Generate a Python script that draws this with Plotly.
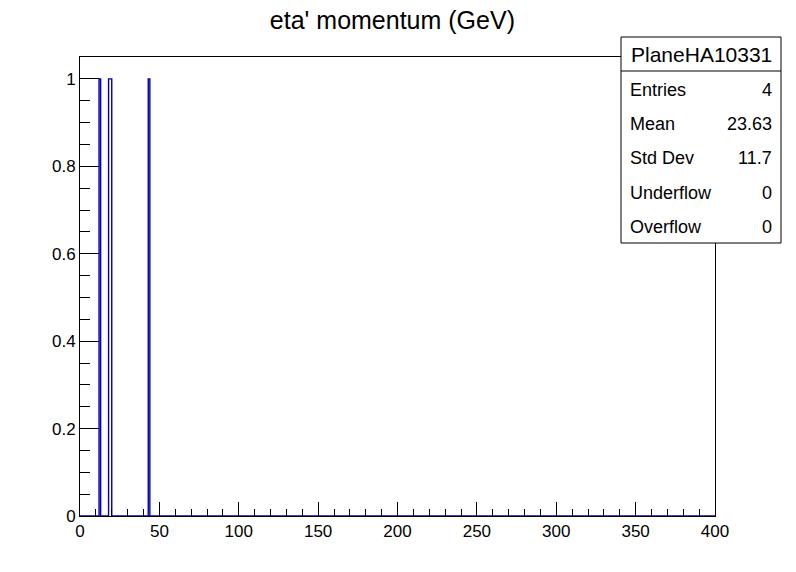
import numpy as np
import plotly.graph_objects as go

# ---- data ----
n_bins = 400
x_min, x_max = 0, 400
filled_bins = [12, 18, 19, 43]      # lower bin edge (GeV) of filled bins
filled_counts = [1, 1, 1, 1]
stats_title = "PlaneHA10331"
stats_labels = ["Entries", "Mean", "Std Dev", "Underflow", "Overflow"]
stats_values = ["4", "23.63", "11.7", "0", "0"]
title_text = "eta' momentum (GeV)"

# ---- build histogram outline ----
edges = np.linspace(x_min, x_max, n_bins + 1)
counts = np.zeros(n_bins)
for b, c in zip(filled_bins, filled_counts):
    counts[int(b)] += c
xs = list(edges)
ys = list(counts) + [counts[-1]]

font = "Liberation Sans, Arial, Helvetica, sans-serif"

fig = go.Figure()
fig.add_trace(go.Scatter(x=xs, y=ys, mode="lines", line=dict(color="#0000b0", width=1.4, shape="hv"),
                         hoverinfo="skip", showlegend=False))

fig.update_layout(
    width=796, height=572,
    margin=dict(l=80, r=81, t=57, b=56),
    paper_bgcolor="white", plot_bgcolor="white",
    font=dict(family=font, size=17, color="black"),
    title=dict(text=title_text, x=0.493, xanchor="center", y=0.965, yanchor="middle",
               font=dict(size=25, family=font, color="black")),
    showlegend=False,
)
fig.update_xaxes(range=[x_min, x_max], dtick=50, tick0=0, ticks="inside", ticklen=14, tickwidth=1,
                 tickcolor="black", showline=True, linecolor="black", linewidth=1, mirror=True,
                 showgrid=False, zeroline=False, layer="above traces",
                 minor=dict(dtick=10, ticks="inside", ticklen=7, tickcolor="black", showgrid=False),
                 tickfont=dict(size=17, family=font))
fig.update_yaxes(range=[0, 1.05], dtick=0.2, tick0=0, ticks="inside", ticklen=19, tickwidth=1,
                 tickcolor="black", showline=True, linecolor="black", linewidth=1, mirror=True,
                 showgrid=False, zeroline=False, layer="above traces",
                 minor=dict(dtick=0.05, ticks="inside", ticklen=10, tickcolor="black", showgrid=False),
                 tickfont=dict(size=17, family=font))

# ---- stats box ----
px_w, px_h = 635.0, 459.0
def px2x(px): return (px - 80) / px_w
def px2y(py): return (516 - py) / px_h

fig.add_shape(type="rect", xref="paper", yref="paper",
              x0=px2x(621), x1=px2x(781), y0=px2y(243), y1=px2y(37),
              fillcolor="white", line=dict(color="black", width=1), layer="above")
fig.add_shape(type="line", xref="paper", yref="paper",
              x0=px2x(621), x1=px2x(781), y0=px2y(71), y1=px2y(71),
              line=dict(color="black", width=1), layer="above")
fig.add_annotation(text=stats_title, xref="paper", yref="paper", x=px2x(701), y=px2y(54),
                   xanchor="center", yanchor="middle", showarrow=False,
                   font=dict(size=21, family=font, color="black"))
row_y = [90, 124, 158, 193, 227]
for lab, val, yy in zip(stats_labels, stats_values, row_y):
    fig.add_annotation(text=lab, xref="paper", yref="paper", x=px2x(628), y=px2y(yy),
                       xanchor="left", yanchor="middle", showarrow=False,
                       font=dict(size=18, family=font, color="black"))
    fig.add_annotation(text=val, xref="paper", yref="paper", x=px2x(774), y=px2y(yy),
                       xanchor="right", yanchor="middle", showarrow=False,
                       font=dict(size=18, family=font, color="black"))

fig.write_html("out.html")
